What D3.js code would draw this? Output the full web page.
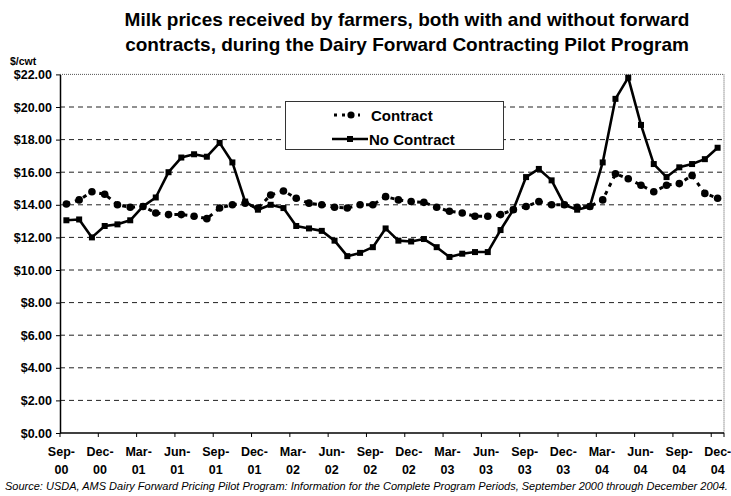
<!DOCTYPE html>
<html>
<head>
<meta charset="utf-8">
<script src="https://cdn.jsdelivr.net/npm/d3@7"></script>
<style>
	body { margin: 0; background: #fff; }
	#canvas { width: 731px; height: 496px; }
	text { font-family: 'Liberation Sans', Arial, sans-serif; fill: #000; }
</style>
</head>
<body>
<div id="canvas"></div>
<script>
const months = [
	'Sep-00', 'Oct-00', 'Nov-00', 'Dec-00',
	'Jan-01', 'Feb-01', 'Mar-01', 'Apr-01', 'May-01', 'Jun-01', 'Jul-01', 'Aug-01', 'Sep-01', 'Oct-01', 'Nov-01', 'Dec-01',
	'Jan-02', 'Feb-02', 'Mar-02', 'Apr-02', 'May-02', 'Jun-02', 'Jul-02', 'Aug-02', 'Sep-02', 'Oct-02', 'Nov-02', 'Dec-02',
	'Jan-03', 'Feb-03', 'Mar-03', 'Apr-03', 'May-03', 'Jun-03', 'Jul-03', 'Aug-03', 'Sep-03', 'Oct-03', 'Nov-03', 'Dec-03',
	'Jan-04', 'Feb-04', 'Mar-04', 'Apr-04', 'May-04', 'Jun-04', 'Jul-04', 'Aug-04', 'Sep-04', 'Oct-04', 'Nov-04', 'Dec-04',
];

const contract = [
	14.05, 14.3, 14.8, 14.65,
	14.0, 13.85, 13.9, 13.5, 13.4, 13.4, 13.3, 13.15, 13.8, 14.0, 14.1, 13.8,
	14.6, 14.85, 14.4, 14.1, 14.0, 13.85, 13.8, 14.0, 14.0, 14.5, 14.3, 14.2,
	14.15, 13.85, 13.6, 13.5, 13.3, 13.3, 13.4, 13.7, 13.9, 14.2, 14.0, 14.0,
	13.85, 13.9, 14.3, 15.9, 15.6, 15.2, 14.8, 15.2, 15.3, 15.8, 14.7, 14.4,
];

const noContract = [
	13.05, 13.1, 12.0, 12.7,
	12.8, 13.05, 13.9, 14.45, 16.0, 16.9, 17.1, 16.95, 17.8, 16.6, 14.2, 13.7,
	14.0, 13.8, 12.7, 12.55, 12.4, 11.8, 10.85, 11.05, 11.4, 12.55, 11.8, 11.75,
	11.9, 11.4, 10.8, 11.0, 11.1, 11.1, 12.45, 13.7, 15.7, 16.2, 15.5, 14.0,
	13.7, 13.9, 16.6, 20.5, 21.8, 18.9, 16.5, 15.7, 16.3, 16.5, 16.8, 17.5,
];

const xTickMonths = [
	'Sep-00', 'Dec-00', 'Mar-01', 'Jun-01', 'Sep-01', 'Dec-01', 'Mar-02', 'Jun-02', 'Sep-02',
	'Dec-02', 'Mar-03', 'Jun-03', 'Sep-03', 'Dec-03', 'Mar-04', 'Jun-04', 'Sep-04', 'Dec-04',
];
const yTicks = [0, 2, 4, 6, 8, 10, 12, 14, 16, 18, 20, 22];

const titleLines = [
	'Milk prices received by farmers, both with and without forward',
	'contracts, during the Dairy Forward Contracting Pilot Program',
];
const sourceText =
	'Source: USDA, AMS Dairy Forward Pricing Pilot Program: Information for the Complete Program Periods, September 2000 through December 2004.';

const width = 731;
const height = 496;
const margins = { top: 74.4, right: 7, bottom: 63, left: 60 };

const svg = d3.select('#canvas').append('svg').attr('width', width).attr('height', height);

const xScale = d3
	.scaleBand()
	.domain(months)
	.range([margins.left, width - margins.right])
	.padding(0);

const yScale = d3
	.scaleLinear()
	.domain([0, 22])
	.range([height - margins.bottom, margins.top]);

const cx = m => xScale(m) + xScale.bandwidth() / 2;

// title
svg.append('g')
	.selectAll('text')
	.data(titleLines)
	.join('text')
	.attr('x', 407)
	.attr('y', (d, i) => 26 + i * 25)
	.attr('text-anchor', 'middle')
	.style('font-size', '19px')
	.style('font-weight', 'bold')
	.text(d => d);

svg.append('text')
	.attr('x', 10)
	.attr('y', 65)
	.style('font-size', '10.5px')
	.style('font-weight', 'bold')
	.text('$/cwt');

// gridlines
svg.append('g')
	.selectAll('line')
	.data(yTicks.filter(d => d > 0 && d < 22))
	.join('line')
	.attr('x1', margins.left)
	.attr('x2', width - margins.right)
	.attr('y1', d => yScale(d))
	.attr('y2', d => yScale(d))
	.attr('stroke', '#222')
	.attr('stroke-width', 1)
	.attr('stroke-dasharray', '5,4');

// frame top / right
svg.append('path')
	.attr('d', `M${margins.left},${yScale(22)}H${width - margins.right}V${yScale(0)}`)
	.attr('fill', 'none')
	.attr('stroke', '#555')
	.attr('stroke-width', 1)
	.attr('stroke-dasharray', '1,1');

// y axis
const yAxis = svg
	.append('g')
	.attr('transform', `translate(${margins.left},0)`)
	.call(
		d3
			.axisLeft(yScale)
			.tickValues(yTicks)
			.tickSize(4)
			.tickSizeOuter(0)
			.tickPadding(4)
			.tickFormat(d => '$' + d3.format('.2f')(d))
	);
yAxis.select('.domain').attr('stroke', '#000').attr('stroke-width', 1.5);
yAxis.selectAll('.tick line').attr('stroke', '#000');
yAxis.selectAll('.tick text')
	.style('font-size', '12.5px')
	.style('font-weight', 'bold')
	.style('font-family', "'Liberation Sans', Arial, sans-serif");

// x axis
const xAxisG = svg.append('g').attr('transform', `translate(0,${yScale(0)})`);
xAxisG.append('line')
	.attr('x1', margins.left)
	.attr('x2', width - margins.right)
	.attr('stroke', '#000')
	.attr('stroke-width', 1.5);
xAxisG.selectAll('.xtick')
	.data(months.filter((d, i) => i % 3 === 0).concat(['end']))
	.join('line')
	.attr('class', 'xtick')
	.attr('x1', d => (d === 'end' ? width - margins.right : xScale(d)))
	.attr('x2', d => (d === 'end' ? width - margins.right : xScale(d)))
	.attr('y1', 0)
	.attr('y2', 4)
	.attr('stroke', '#000');

const xLabels = xAxisG
	.selectAll('.xlabel')
	.data(xTickMonths)
	.join('text')
	.attr('class', 'xlabel')
	.attr('text-anchor', 'middle')
	.attr('transform', (d, i) => `translate(${cx(d) - 5 + 0.1 * months.indexOf(d)},0)`)
	.style('font-size', '12.5px')
	.style('font-weight', 'bold');
xLabels.append('tspan').attr('x', 0).attr('y', 23).text(d => d.split('-')[0] + '-');
xLabels.append('tspan').attr('x', 0).attr('y', 41).text(d => d.split('-')[1]);

// lines
const line = d3
	.line()
	.x((d, i) => cx(months[i]))
	.y(d => yScale(d));

svg.append('path')
	.datum(noContract)
	.attr('d', line)
	.attr('fill', 'none')
	.attr('stroke', '#000')
	.attr('stroke-width', 2.6)
	.attr('stroke-linejoin', 'round');

svg.append('g')
	.selectAll('rect')
	.data(noContract)
	.join('rect')
	.attr('x', (d, i) => cx(months[i]) - 3)
	.attr('y', d => yScale(d) - 3)
	.attr('width', 6)
	.attr('height', 6)
	.attr('fill', '#000');

svg.append('path')
	.datum(contract)
	.attr('d', line)
	.attr('fill', 'none')
	.attr('stroke', '#000')
	.attr('stroke-width', 3)
	.attr('stroke-dasharray', '4,5');

svg.append('g')
	.selectAll('circle')
	.data(contract)
	.join('circle')
	.attr('cx', (d, i) => cx(months[i]))
	.attr('cy', d => yScale(d))
	.attr('r', 3.8)
	.attr('fill', '#000');

// legend
const legend = svg.append('g');
legend.append('rect')
	.attr('x', 285.5)
	.attr('y', 101.5)
	.attr('width', 218)
	.attr('height', 48)
	.attr('fill', '#fff')
	.attr('stroke', '#333')
	.attr('stroke-width', 1);
legend.append('line')
	.attr('x1', 334).attr('x2', 360)
	.attr('y1', 115).attr('y2', 115)
	.attr('stroke', '#000').attr('stroke-width', 3).attr('stroke-dasharray', '3,5');
legend.append('circle').attr('cx', 351).attr('cy', 115).attr('r', 3.6).attr('fill', '#000');
legend.append('line')
	.attr('x1', 332).attr('x2', 368)
	.attr('y1', 139).attr('y2', 139)
	.attr('stroke', '#000').attr('stroke-width', 2.6);
legend.append('rect').attr('x', 347).attr('y', 136).attr('width', 6).attr('height', 6).attr('fill', '#000');
legend.selectAll('.ltext')
	.data(['Contract', 'No Contract'])
	.join('text')
	.attr('class', 'ltext')
	.attr('x', (d, i) => (i === 0 ? 371 : 369))
	.attr('y', (d, i) => 120.5 + i * 24)
	.style('font-size', '15px')
	.style('font-weight', 'bold')
	.text(d => d);

// source
svg.append('text')
	.attr('x', 5)
	.attr('y', 490)
	.style('font-size', '11px')
	.style('font-style', 'italic')
	.text(sourceText);
</script>
</body>
</html>
